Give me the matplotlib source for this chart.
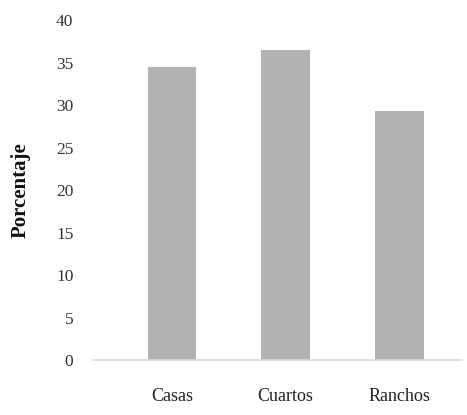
import matplotlib
matplotlib.use("Agg")
import matplotlib.pyplot as plt

categorias = ["Casas", "Cuartos", "Ranchos"]
porcentaje = [34.5, 36.5, 29.3]
yticks = [0, 5, 10, 15, 20, 25, 30, 35, 40]

plt.rcParams['font.family'] = ['Liberation Serif', 'DejaVu Serif']

fig = plt.figure(figsize=(4.67, 4.15), dpi=100)
ax = fig.add_axes([0.199, 0.1325, 0.79, 0.819])

x = range(len(categorias))
ax.bar(x, porcentaje, width=0.43, color="#b1b2b4")

ax.set_xlim(-0.695, 2.55)
ax.set_ylim(0, 40)
ax.set_yticks(yticks)
ax.set_xticks(list(x))
ax.set_xticklabels(categorias)

for s in ["top", "right", "left"]:
    ax.spines[s].set_visible(False)
ax.spines["bottom"].set_color("#d9d9d9")
ax.spines["bottom"].set_linewidth(1.2)

ax.tick_params(axis="y", length=0, pad=14, labelsize=12.5, labelcolor="#333333")
ax.tick_params(axis="x", length=0, pad=20, labelsize=13, labelcolor="#222222")

ax.set_ylabel("Porcentaje", fontsize=15, fontweight="bold", color="#111111")
ax.yaxis.set_label_coords(-0.17, 0.5)

fig.savefig("out.png", dpi=100)
